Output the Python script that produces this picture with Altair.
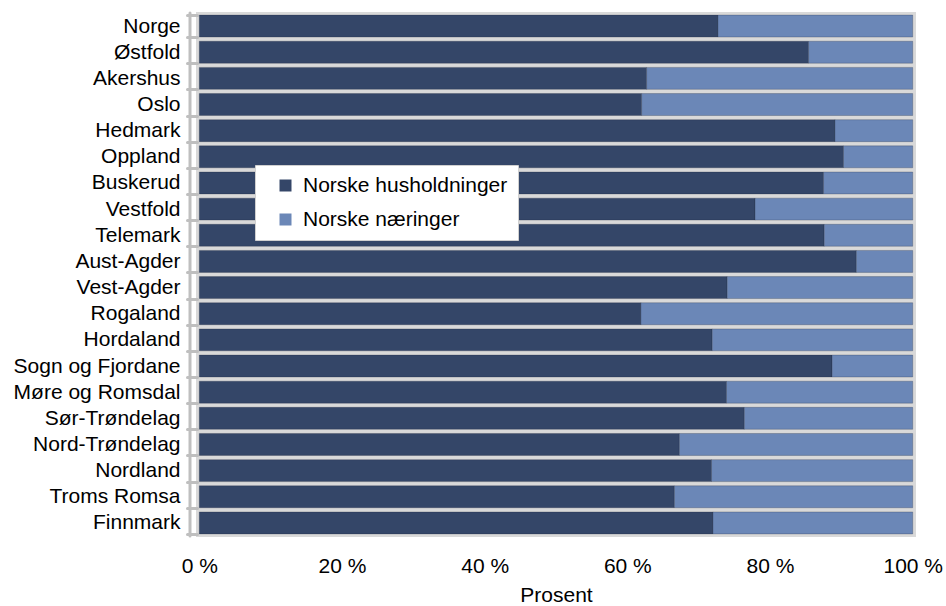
import altair as alt
import pandas as pd

# Fylker, top to bottom
fylker = [
    "Norge", "Østfold", "Akershus", "Oslo", "Hedmark", "Oppland", "Buskerud",
    "Vestfold", "Telemark", "Aust-Agder", "Vest-Agder", "Rogaland", "Hordaland",
    "Sogn og Fjordane", "Møre og Romsdal", "Sør-Trøndelag", "Nord-Trøndelag",
    "Nordland", "Troms Romsa", "Finnmark",
]

# Andel (prosent) per fylke for hver serie
husholdninger = [72.7, 85.4, 62.7, 62.0, 89.1, 90.3, 87.5, 77.9, 87.6, 92.1,
                 74.0, 61.9, 71.9, 88.7, 73.9, 76.4, 67.3, 71.8, 66.6, 72.0]
naeringer = [27.3, 14.6, 37.3, 38.0, 10.9, 9.7, 12.5, 22.1, 12.4, 7.9,
             26.0, 38.1, 28.1, 11.3, 26.1, 23.6, 32.7, 28.2, 33.4, 28.0]

serier = ["Norske husholdninger", "Norske næringer"]
farger = ["#344668", "#6b87b7"]
x_ticks = [0, 20, 40, 60, 80, 100]

rows = []
for i, f in enumerate(fylker):
    rows.append({"fylke": f, "serie": serier[0], "andel": husholdninger[i], "rekkefolge": 0})
    rows.append({"fylke": f, "serie": serier[1], "andel": naeringer[i], "rekkefolge": 1})
df = pd.DataFrame(rows)

W, H = 718, 523
FONT = "Liberation Sans"
FS = 21

bars = alt.Chart(df).mark_bar(
    stroke="#1c2538", strokeOpacity=0.25, strokeWidth=1
).encode(
    x=alt.X(
        "andel:Q",
        stack="zero",
        scale=alt.Scale(domain=[-0.32, 100.32], nice=False, zero=False),
        axis=alt.Axis(
            values=x_ticks,
            labelExpr="datum.value + ' %'",
            title="Prosent",
            grid=False,
            domain=False,
            ticks=False,
            tickSize=0,
            labelPadding=19,
            titlePadding=8,
            labelFontSize=FS,
            titleFontSize=FS,
            titleFontWeight="normal",
            labelColor="black",
            titleColor="black",
        ),
    ),
    y=alt.Y(
        "fylke:N",
        sort=fylker,
        scale=alt.Scale(paddingInner=0.16, paddingOuter=0.08),
        axis=alt.Axis(
            title=None,
            domain=False,
            tickBand="extent",
            tickSize=10,
            tickWidth=3,
            tickColor="#bfbfbf",
            tickCap="round",
            labelPadding=7,
            labelFontSize=FS,
            labelColor="black",
            labelLimit=300,
        ),
    ),
    color=alt.Color(
        "serie:N",
        scale=alt.Scale(domain=serier, range=farger),
        legend=alt.Legend(
            title=None,
            orient="none",
            legendX=58,
            legendY=152,
            direction="vertical",
            fillColor="white",
            strokeColor="#d0d0d0",
            padding=10,
            symbolOffset=10,
            symbolType="square",
            symbolSize=144,
            symbolStrokeWidth=0,
            labelFontSize=FS,
            labelColor="black",
            labelOffset=7,
            labelLimit=400,
            rowPadding=12,
            labelExpr="datum.label + '  '",
        ),
    ),
    order=alt.Order("rekkefolge:Q"),
)

# Vertical axis line to the left of the plot area
axis_line = alt.Chart(pd.DataFrame({"k": [0]})).mark_rule(
    color="#bfbfbf", strokeWidth=3, strokeCap="round"
).encode(x=alt.value(-7), y=alt.value(0), y2=alt.value(H))

chart = alt.layer(axis_line, bars).properties(
    width=W,
    height=H,
    autosize=alt.AutoSizeParams(type="none"),
    padding={"left": 197, "top": 13, "right": 31, "bottom": 70},
).configure(
    font=FONT,
).configure_view(
    fill="#d9d9d9",
    stroke="#d9d9d9",
    strokeWidth=2,
)

chart.save("out.html", embed_options={"renderer": "svg", "actions": False})
